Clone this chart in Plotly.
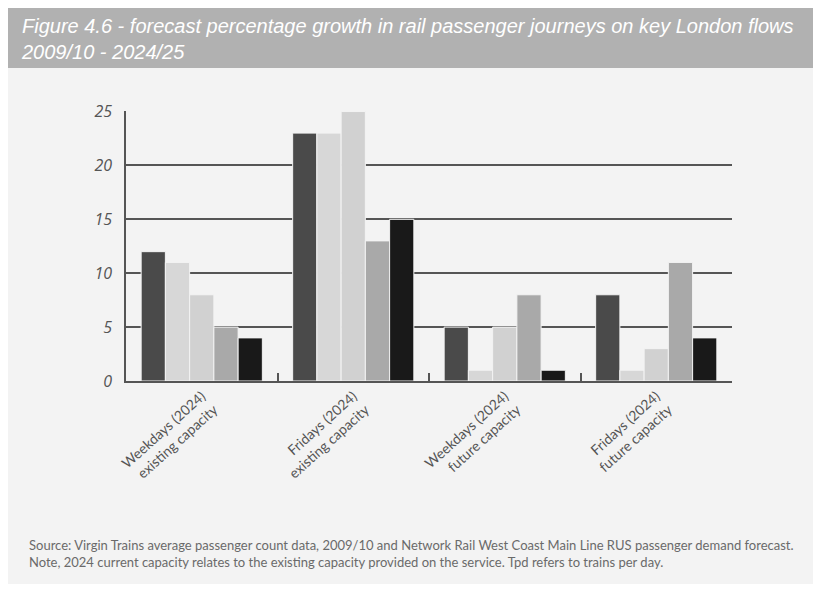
import plotly.graph_objects as go

categories = [
    "Weekdays (2024)<br>existing capacity",
    "Fridays (2024)<br>existing capacity",
    "Weekdays (2024)<br>future capacity",
    "Fridays (2024)<br>future capacity",
]
series_names = ["Series 1", "Series 2", "Series 3", "Series 4", "Series 5"]
s1 = [12, 23, 5, 8]
s2 = [11, 23, 1, 1]
s3 = [8, 25, 5, 3]
s4 = [5, 13, 8, 11]
s5 = [4, 15, 1, 4]
series_values = [s1, s2, s3, s4, s5]
colors = ["#4a4a4a", "#d7d7d7", "#d1d1d1", "#a9a9a9", "#191919"]
y_ticks = [0, 5, 10, 15, 20, 25]

title_text = ("Figure 4.6 - forecast percentage growth in rail passenger journeys on key London flows"
              "<br>2009/10 - 2024/25")
source_text = ("Source: Virgin Trains average passenger count data, 2009/10 and Network Rail West Coast Main Line RUS passenger demand forecast."
               "<br>Note, 2024 current capacity relates to the existing capacity provided on the service. Tpd refers to trains per day.")

W, H = 813, 589
L, R, T, B = 126, 732, 111, 381
pw, ph = R - L, B - T


def px(x):
    return (x - L) / pw


def py(y):
    return (B - y) / ph


fig = go.Figure()
for name, vals, c in zip(series_names, series_values, colors):
    fig.add_trace(go.Bar(
        x=categories, y=vals, name=name,
        marker=dict(color=c, line=dict(color="#f3f3f3", width=1)),
        showlegend=False,
    ))

shapes = [
    dict(type="rect", xref="paper", yref="paper", x0=px(8), x1=px(813), y0=py(584), y1=py(8),
         fillcolor="#f3f3f3", line=dict(width=0), layer="below"),
    dict(type="rect", xref="paper", yref="paper", x0=px(8), x1=px(813), y0=py(68), y1=py(8),
         fillcolor="#b1b1b1", line=dict(width=0), layer="below"),
]

annotations = [
    dict(text="<i>" + title_text.replace("<br>", "</i><br><i>") + "</i>", xref="paper", yref="paper",
         x=px(19), y=py(39), xanchor="left", yanchor="middle", align="left", showarrow=False,
         font=dict(family="Liberation Sans, Arial", size=20, color="white")),
    dict(text=source_text, xref="paper", yref="paper", x=px(27), y=py(553),
         xanchor="left", yanchor="middle", align="left", showarrow=False,
         font=dict(family="Lato", size=13, color="#6a6a6a")),
]

fig.update_layout(
    width=W, height=H,
    margin=dict(l=L, r=W - R, t=T, b=H - B, pad=0),
    paper_bgcolor="white",
    plot_bgcolor="#f3f3f3",
    barmode="group",
    bargap=0.2,
    bargroupgap=0,
    shapes=shapes,
    annotations=annotations,
    xaxis=dict(
        showgrid=False, showline=True, linecolor="#555555", linewidth=1.5,
        ticks="inside", tickson="boundaries", ticklen=8, tickcolor="#555555", tickwidth=1.5,
        tickangle=-42,
        tickfont=dict(family="Lato", size=14, color="#555555"),
    ),
    yaxis=dict(
        range=[0, 25.05], tickvals=y_ticks, ticktext=["<i>%d</i>" % v for v in y_ticks],
        showgrid=True, gridcolor="#555555", gridwidth=1.5,
        showline=True, linecolor="#555555", linewidth=1.5,
        ticks="", ticklabelstandoff=9, zeroline=False,
        tickfont=dict(family="Open Sans", size=16, color="#555555"),
    ),
)

fig.write_html("out.html")
